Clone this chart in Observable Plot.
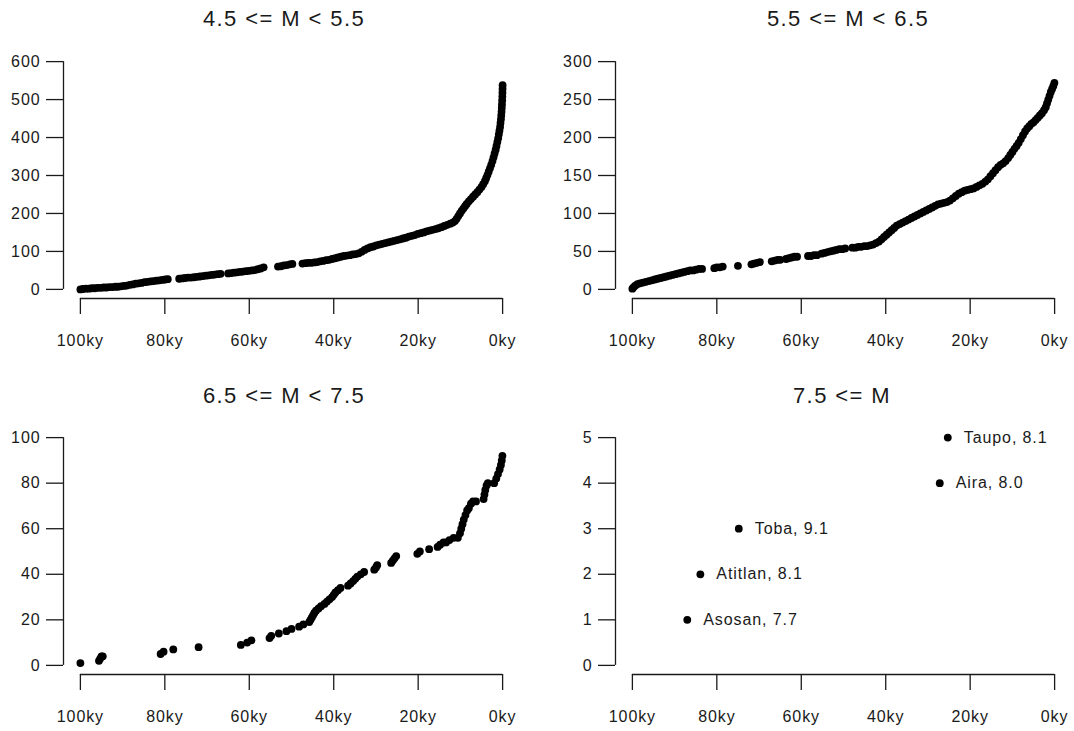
<!DOCTYPE html>
<html>
<head>
<meta charset="utf-8">
<script src="https://cdn.jsdelivr.net/npm/d3@7"></script>
<script src="https://cdn.jsdelivr.net/npm/@observablehq/plot@0.6"></script>
<style>
  html, body { margin: 0; padding: 0; background: #fff; }
  #wrap { position: relative; width: 1074px; height: 731px; background: #fff; overflow: hidden; }
  .ttl { position: absolute; font-family: "Liberation Sans", Arial, sans-serif; font-size: 22px; letter-spacing: 1.4px; color: #1a1a1a; white-space: nowrap; transform: translate(-50%, -50%); }
  .pnl { position: absolute; }
</style>
</head>
<body>
<div id="wrap"></div>
<script>
// ---------- data (ages in ky before present, cumulative counts) ----------
const titles = ["4.5 <= M < 5.5", "5.5 <= M < 6.5", "6.5 <= M < 7.5", "7.5 <= M"];
const xTickValues = [100, 80, 60, 40, 20, 0];

const ages1 = [100,99.4,98.7,98,97.3,96.6,95.9,95.2,94.5,93.8,93.1,92.4,91.7,91.1,
  90.4,89.7,89,88.3,87.6,86.9,86.2,85.5,84.8,84.1,83.4,82.7,82,81.3,80.6,79.9,79.3,
  76.6,75.9,75.2,74.5,73.8,73.1,72.4,71.7,71,70.3,69.6,68.9,68.2,67.5,66.8,
  65,64.3,63.6,62.9,62.2,61.5,60.8,60.1,59.4,58.7,58,57.3,56.6,
  53.2,52.5,51.8,51.1,50.4,49.8,
  47.4,46.7,46,45.3,44.6,43.9,43.2,42.5,41.8,41.1,40.4,39.7,39,38.3,37.6,36.9,36.2,35.5,34.8,34.1,33.4,32.7,32,31.3,30.6,29.9,29.2,28.5,27.8,27.1,26.4,25.7,25,24.3,23.6,22.9,22.2,21.5,20.8,20.1,19.4,18.7,18,17.3,16.6,15.9,15.2,14.5,13.8,13.1,12.4,11.8,11.3,10.9,10.5,10.1,9.7,9.3,8.9,8.5,8,7.5,7,6.5,6,5.5,5,4.6,4.2,3.9,3.6,3.3,3,2.7,2.4,2.15,1.9,1.65,1.45,1.25,1.05,0.9,0.75,0.6,0.5,0.4,0.32,0.25,0.2,0.15,0.1,0.07,0.04,0.02,0];
const counts1 = [0,1,2,2,3,3,4,4,5,5,6,6,7,7,
  8,9,10,12,13,15,16,17,19,20,21,22,23,24,25,26,27,
  28,29,30,31,31,32,33,34,35,36,37,38,39,40,41,
  42,43,44,45,46,47,48,49,50,51,53,55,58,
  60,61,63,64,66,67,
  68,69,70,70,71,72,74,75,77,78,80,82,84,86,88,89,90,92,93,95,99,104,108,111,113,116,118,120,122,124,126,128,130,132,134,136,139,141,143,146,148,150,153,155,157,159,161,164,167,170,173,176,180,186,193,200,207,213,219,225,232,238,244,250,256,263,270,277,285,293,301,310,319,328,338,348,358,368,378,388,398,408,418,428,438,448,458,468,478,488,498,508,518,528,538];

const ages2 = [100,99.7,99.3,98.8,98.2,97.5,96.8,96.1,95.4,94.7,94,93.3,92.6,91.9,91.2,90.5,89.8,89.1,88.4,87.7,87,86.3,85.6,84.9,84.2,83.5,
  80.6,80,79.3,78.6,75,71.8,71.2,70.5,69.8,67,66.3,65.6,65,63.6,63,62.3,61.6,61,58.4,57.7,57,56.3,
  55.2,54.5,53.8,53.1,52.4,51.7,51,50.3,49.6,
  47.9,47.2,46.5,45.8,45.1,44.4,43.7,43,42.3,41.6,41,40.4,39.8,39.2,38.6,38,37.4,36.7,36,35.3,34.6,33.9,33.2,32.5,31.8,31.1,30.4,29.7,29,28.3,27.6,26.9,26.2,25.5,24.8,24.1,23.4,22.7,22,21.3,20.6,19.9,19.2,18.5,17.8,17.1,16.4,15.8,15.2,14.6,14,13.4,12.8,12.2,11.6,11,10.5,10,9.5,9,8.5,8,7.5,7,6.5,6,5.5,5,4.5,4,3.5,3,2.5,2.1,1.8,1.5,1.2,0.9,0.6,0.3,0.05];
const counts2 = [1,3,5,7,8,9,10,11,12,13,14,15,16,17,18,19,20,21,22,23,24,25,25,26,27,27,
  28,29,29,30,31,33,34,35,36,37,38,39,39,40,41,42,43,43,44,44,45,45,
  47,48,49,50,51,52,53,53,54,
  55,55,56,56,57,57,58,59,61,63,66,69,72,75,78,81,84,86,88,90,92,94,96,98,100,102,104,106,108,110,112,113,114,115,117,120,123,126,128,130,131,132,133,135,137,139,142,145,149,153,157,161,164,166,169,173,177,181,185,189,193,198,203,208,212,215,218,220,223,226,229,232,236,240,245,250,255,260,264,268,272];

const ages3 = [100,95.6,95.3,95,94.7,81,80.3,78,72,62,60.5,59.5,55.2,54.8,53,51.2,50,48.2,47.2,45.8,45.5,45.2,44.9,44.6,44.2,43.6,43,42.2,41.6,41,40.4,40,39.6,39,38.4,36.6,36,35.4,34.9,34.4,33.6,32.8,30.4,30,29.7,26.4,26,25.6,25.2,20.2,19.6,17.4,15.4,14.8,14,13.4,12.6,11.6,10.6,10.1,9.8,9.5,9.2,8.8,8.4,8,7.5,7,6.3,4.5,4.3,4.1,3.8,3.5,2,1.5,1.1,0.7,0.4,0.2,0.05];
const counts3 = [1,2,3,4,4,5,6,7,8,9,10,11,12,13,14,15,16,17,18,19,20,21,22,23,24,25,26,27,28,29,30,31,32,33,34,35,36,37,38,39,40,41,42,43,44,45,46,47,48,49,50,51,52,53,54,54,55,56,56,58,60,62,64,66,68,69,71,72,72,73,75,77,79,80,80,82,84,86,88,90,92];

const names4 = ["Asosan", "Atitlan", "Toba", "Aira", "Taupo"];
const mags4 = [7.7, 8.1, 9.1, 8.0, 8.1];
const ages4 = [87, 83.9, 74.8, 27.2, 25.3];
const counts4 = [1, 2, 3, 4, 5];

const yTicks1 = [0,100,200,300,400,500,600];
const yTicks2 = [0,50,100,150,200,250,300];
const yTicks3 = [0,20,40,60,80,100];
const yTicks4 = [0,1,2,3,4,5];

// ---------- drawing ----------
const FONT = '"Liberation Sans", Arial, sans-serif';
const INK = "#1a1a1a";
const wrap = document.getElementById("wrap");

function rows(ages, counts, labels) {
  return ages.map((a, i) => ({age: a, count: counts[i], label: labels ? labels[i] : null}));
}

function panel(cfg) {
  const yMax = cfg.yTicks[cfg.yTicks.length - 1];
  const yPad = 0.04 * yMax;
  const xMax = xTickValues[0], xMin = xTickValues[xTickValues.length - 1];
  const xPad = 0.04 * (xMax - xMin);
  const marks = [
    Plot.ruleX([xMax + xPad], {y1: 0, y2: yMax, stroke: INK, strokeWidth: 1.3}),
    Plot.ruleY([-yPad], {x1: xMax, x2: xMin, stroke: INK, strokeWidth: 1.3}),
    Plot.axisY(cfg.yTicks, {anchor: "left", tickSize: 17, tickPadding: 6, label: null,
      tickFormat: d => String(d), fontSize: 16, stroke: INK, strokeWidth: 1.3, fill: INK}),
    Plot.axisX(xTickValues, {anchor: "bottom", tickSize: 16, tickPadding: 20, label: null,
      tickFormat: d => d + "ky", fontSize: 16, stroke: INK, strokeWidth: 1.3, fill: INK}),
    Plot.dot(cfg.data, {x: "age", y: "count", r: 3.9, fill: "#000", stroke: null})
  ];
  if (cfg.labelled) {
    marks.push(Plot.text(cfg.data, {x: "age", y: "count", text: "label", dx: 16, textAnchor: "start",
      fontSize: 16, fill: INK}));
  }
  const chart = Plot.plot({
    width: cfg.width, height: cfg.height,
    marginLeft: cfg.ml, marginRight: cfg.mr, marginTop: cfg.mt, marginBottom: cfg.mb,
    x: {domain: [xMin - xPad, xMax + xPad], reverse: true, axis: null},
    y: {domain: [-yPad, yMax + yPad], axis: null},
    style: {fontFamily: FONT, fontSize: "16px", letterSpacing: "0.9px", background: "transparent", color: INK, overflow: "visible"},
    marks
  });
  chart.classList.add("pnl");
  chart.style.left = cfg.left + "px";
  chart.style.top = cfg.top + "px";
  wrap.appendChild(chart);
  const t = document.createElement("div");
  t.className = "ttl";
  t.textContent = cfg.title;
  t.style.left = cfg.tx + "px";
  t.style.top = cfg.ty + "px";
  wrap.appendChild(t);
}

panel({data: rows(ages1, counts1), yTicks: yTicks1, title: titles[0],
  left: 0, top: 0, width: 537, height: 365, ml: 63, mr: 18, mt: 52, mb: 67, tx: 284, ty: 19});
panel({data: rows(ages2, counts2), yTicks: yTicks2, title: titles[1],
  left: 537, top: 0, width: 537, height: 365, ml: 78, mr: 3, mt: 52, mb: 67, tx: 848, ty: 19});
panel({data: rows(ages3, counts3), yTicks: yTicks3, title: titles[2],
  left: 0, top: 365, width: 537, height: 366, ml: 63, mr: 18, mt: 63, mb: 57, tx: 284, ty: 396});
panel({data: rows(ages4, counts4, names4.map((n, i) => `${n}, ${mags4[i].toFixed(1)}`)), yTicks: yTicks4,
  title: titles[3], labelled: true,
  left: 537, top: 365, width: 537, height: 366, ml: 78, mr: 3, mt: 63, mb: 57, tx: 842, ty: 396});
</script>
</body>
</html>
